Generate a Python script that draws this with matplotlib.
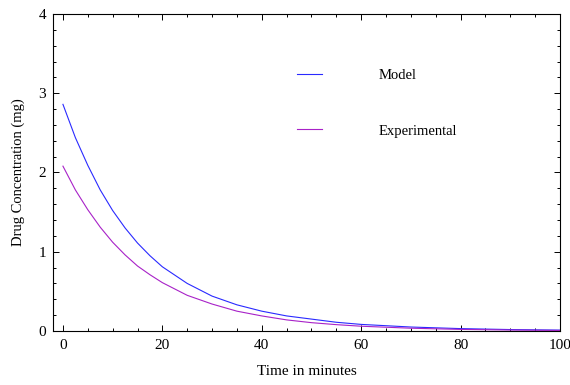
import matplotlib
matplotlib.use("Agg")
import matplotlib.pyplot as plt
from matplotlib.ticker import MultipleLocator

plt.rcParams['font.family'] = ['Liberation Serif', 'DejaVu Serif']

time_min = [0, 2.5, 5, 7.5, 10, 12.5, 15, 17.5, 20, 25, 30, 35, 40, 45, 50, 55, 60, 70, 80, 90, 100]
model = [2.86, 2.44, 2.09, 1.78, 1.52, 1.30, 1.11, 0.95, 0.81, 0.60, 0.44, 0.33, 0.25, 0.19,
         0.15, 0.11, 0.083, 0.05, 0.03, 0.018, 0.011]
experimental = [2.08, 1.78, 1.53, 1.31, 1.12, 0.96, 0.82, 0.71, 0.61, 0.45, 0.34, 0.25, 0.19,
                0.14, 0.105, 0.08, 0.06, 0.035, 0.02, 0.012, 0.007]

fig = plt.figure(figsize=(5.7, 3.85), dpi=100)
ax = fig.add_axes([0.093, 0.1403, 0.8895, 0.8233])

ax.plot(time_min, model, color='#2a2aff', lw=0.8, label='Model')
ax.plot(time_min, experimental, color='#a822c8', lw=0.8, label='Experimental')

ax.set_xlim(-2, 100)
ax.set_ylim(0, 4)
ax.xaxis.set_major_locator(MultipleLocator(20))
ax.xaxis.set_minor_locator(MultipleLocator(5))
ax.yaxis.set_major_locator(MultipleLocator(1))
ax.yaxis.set_minor_locator(MultipleLocator(0.2))
ax.tick_params(which='both', direction='in', top=True, right=True, labelsize=11, width=0.7)
ax.tick_params(which='major', length=4.3, pad=5)
ax.tick_params(which='minor', length=2.5)
ax.tick_params(axis='x', which='major', pad=6)
for s in ax.spines.values():
    s.set_linewidth(0.8)

ax.set_xlabel('Time in minutes', fontsize=11, labelpad=9)
ax.set_ylabel('Drug Concentration (mg)', fontsize=10.5, labelpad=9.5)

ax.legend(loc='upper left', bbox_to_anchor=(0.481, 0.828), frameon=False, fontsize=10.5,
          handlelength=1.71, handletextpad=3.89, labelspacing=2.92, borderpad=0, borderaxespad=0)

fig.savefig('out.png', dpi=100)
